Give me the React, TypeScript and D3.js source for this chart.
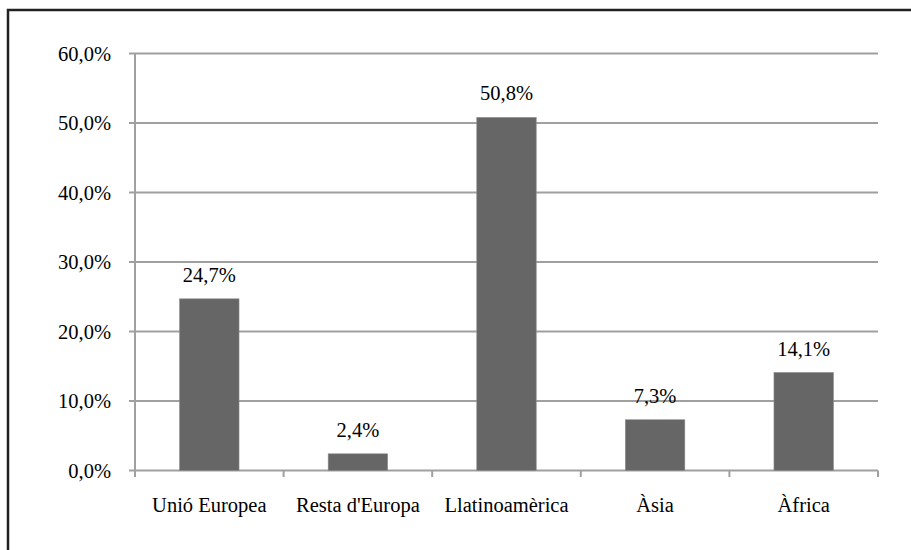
import React from "react";
import * as d3 from "d3";

const categories = ["Unió Europea", "Resta d'Europa", "Llatinoamèrica", "Àsia", "Àfrica"];
const values = [24.7, 2.4, 50.8, 7.3, 14.1];
const yTicks = [0, 10, 20, 30, 40, 50, 60];

const W = 911;
const H = 550;
const left = 135;
const right = 878;
const top = 53.5;
const bottom = 470.5;
const FONT = '"Liberation Serif", "Times New Roman", Times, serif';
const FS = 20.5;

const fmt = (v: number) => v.toFixed(1).replace(".", ",") + "%";

const textStyle: React.CSSProperties = { fontFamily: FONT, fontSize: FS };

export default function App() {
  const x = d3.scaleBand<string>().domain(categories).range([left, right]).paddingInner(0).paddingOuter(0);
  const y = d3.scaleLinear().domain([0, 60]).range([bottom, top]);
  const bw = x.bandwidth() * 0.4;
  const edges = categories.map((c) => x(c) as number).concat([right]);

  return (
    <svg width={W} height={H} style={{ position: "absolute", left: 0, top: 0, background: "#fff" }}>
      <rect x={8} y={10} width={W + 10} height={H + 10} fill="#fff" stroke="#222" strokeWidth={2.5} />
      {yTicks.map((t) => (
        <g key={t}>
          <line x1={left - 6} x2={right} y1={y(t)} y2={y(t)} stroke="#a0a0a0" strokeWidth={2} />
          <text x={111} y={y(t) + 7} textAnchor="end" style={textStyle} fill="#000">
            {fmt(t)}
          </text>
        </g>
      ))}
      <line x1={left} x2={left} y1={top} y2={bottom} stroke="#a0a0a0" strokeWidth={2} />
      {edges.map((e, i) => (
        <line key={i} x1={e} x2={e} y1={bottom} y2={bottom + 6.5} stroke="#a0a0a0" strokeWidth={2} />
      ))}
      {categories.map((c, i) => {
        const cx = (x(c) as number) + x.bandwidth() / 2;
        return (
          <g key={c}>
            <rect x={cx - bw / 2} y={y(values[i])} width={bw} height={bottom - y(values[i])} fill="#666666" stroke="#8a8a8a" strokeWidth={0.6} />
            <text x={cx} y={y(values[i]) - 17} textAnchor="middle" style={textStyle} fill="#000">
              {fmt(values[i])}
            </text>
            <text x={cx} y={512} textAnchor="middle" style={textStyle} fill="#000">
              {c}
            </text>
          </g>
        );
      })}
    </svg>
  );
}
